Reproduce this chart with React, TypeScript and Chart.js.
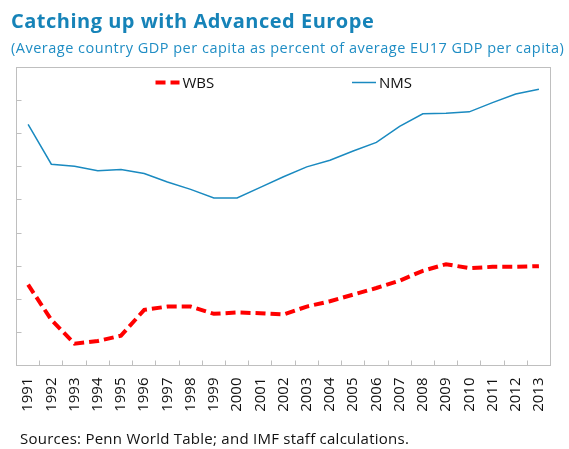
import React, { useEffect, useRef } from "react";
import { Chart, registerables } from "chart.js";
Chart.register(...registerables);

const years = [
  "1991", "1992", "1993", "1994", "1995", "1996", "1997", "1998", "1999", "2000",
  "2001", "2002", "2003", "2004", "2005", "2006", "2007", "2008", "2009", "2010",
  "2011", "2012", "2013",
];
const wbs = [
  32.2, 26.9, 23.3, 23.7, 24.5, 28.4, 28.9, 28.9, 27.8, 28.0,
  27.9, 27.7, 28.9, 29.7, 30.7, 31.7, 32.8, 34.3, 35.3, 34.7,
  34.9, 34.9, 35.0,
];
const nms = [
  56.4, 50.4, 50.1, 49.4, 49.6, 49.0, 47.7, 46.6, 45.3, 45.3,
  46.9, 48.5, 50.0, 51.0, 52.4, 53.7, 56.1, 58.0, 58.1, 58.3,
  59.7, 61.0, 61.7,
];
const yMin = 20;
const yMax = 65;
const yStep = 5;

const FONT = "'Open Sans', 'Noto Sans', sans-serif";
const BLUE_TEXT = "#1683b8";
const FRAME = "#bfbfbf";

const framePlugin = {
  id: "framePlugin",
  afterDatasetsDraw(chart: any) {
    const { ctx, chartArea, scales } = chart;
    const { left, right, top, bottom } = chartArea;
    const L = Math.floor(left) + 0.5;
    const R = Math.floor(right) + 0.5;
    const T = Math.floor(top) + 0.5;
    const B = Math.floor(bottom) + 0.5;
    ctx.save();
    ctx.strokeStyle = FRAME;
    ctx.lineWidth = 1;
    ctx.setLineDash([]);
    ctx.strokeRect(L, T, R - L, B - T);
    const y = scales.y;
    for (let v = yMin + yStep; v < yMax; v += yStep) {
      const py = Math.floor(y.getPixelForValue(v)) + 0.5;
      ctx.beginPath();
      ctx.moveTo(L, py);
      ctx.lineTo(L + 5, py);
      ctx.stroke();
    }
    const x = scales.x;
    for (let i = 1; i < years.length; i++) {
      const px = Math.floor(x.getPixelForValue(i - 0.5)) + 0.5;
      ctx.beginPath();
      ctx.moveTo(px, B);
      ctx.lineTo(px, B - 5);
      ctx.stroke();
    }
    const cx = (left + right) / 2;
    const ly = top + 15;
    const items = [
      { ds: chart.data.datasets[0], x0: cx - 128 },
      { ds: chart.data.datasets[1], x0: cx + 68.5 },
    ];
    ctx.font = `15px ${FONT}`;
    ctx.textBaseline = "middle";
    ctx.textAlign = "left";
    for (const it of items) {
      ctx.save();
      ctx.strokeStyle = it.ds.borderColor;
      ctx.lineWidth = it.ds.borderWidth;
      ctx.setLineDash(it.ds.borderDash || []);
      ctx.beginPath();
      ctx.moveTo(it.x0, ly);
      ctx.lineTo(it.x0 + 24, ly);
      ctx.stroke();
      ctx.restore();
      ctx.fillStyle = "#111";
      ctx.fillText(it.ds.label, it.x0 + 27, ly + 1);
    }
    ctx.restore();
  },
};

export default function App() {
  const ref = useRef<HTMLCanvasElement | null>(null);
  useEffect(() => {
    if (!ref.current) return;
    const chart = new Chart(ref.current, {
      type: "line",
      data: {
        labels: years,
        datasets: [
          {
            label: "WBS",
            data: wbs,
            borderColor: "#ff0000",
            borderWidth: 4,
            borderDash: [10, 5],
            pointRadius: 0,
            tension: 0,
            fill: false,
          },
          {
            label: "NMS",
            data: nms,
            borderColor: "#1a8ac0",
            borderWidth: 1.5,
            pointRadius: 0,
            tension: 0,
            fill: false,
          },
        ],
      },
      options: {
        animation: false,
        responsive: false,
        maintainAspectRatio: false,
        layout: { padding: { left: 16.5, top: 67.5, right: 3.5, bottom: 0 } },
        plugins: {
          legend: { display: false },
          tooltip: { enabled: false },
          title: { display: false },
        },
        scales: {
          x: {
            offset: true,
            grid: { display: false, drawTicks: false },
            border: { display: false },
            ticks: {
              minRotation: 90,
              maxRotation: 90,
              autoSkip: false,
              padding: 12,
              color: "#111",
              font: { family: FONT, size: 15 },
            },
            afterFit: (s: any) => {
              s.height = 83.5;
            },
          },
          y: {
            min: yMin,
            max: yMax,
            ticks: { display: false, stepSize: yStep },
            grid: { display: false, drawTicks: false },
            border: { display: false },
            afterFit: (s: any) => {
              s.width = 0;
            },
          },
        },
      },
      plugins: [framePlugin],
    });
    return () => chart.destroy();
  }, []);

  return (
    <div
      style={{
        position: "fixed",
        left: 0,
        top: 0,
        width: 569,
        height: 449,
        background: "#fff",
        fontFamily: FONT,
        overflow: "hidden",
      }}
    >
      <canvas ref={ref} width={569} height={449} style={{ position: "absolute", left: 0, top: 0 }} />
      <div
        style={{
          position: "absolute",
          left: 11,
          top: 7,
          fontSize: 20,
          fontWeight: 700,
          letterSpacing: "0.5px",
          color: BLUE_TEXT,
          whiteSpace: "nowrap",
          lineHeight: "28px",
        }}
      >
        Catching up with Advanced Europe
      </div>
      <div
        style={{
          position: "absolute",
          left: 11,
          top: 37,
          fontSize: 14.5,
          letterSpacing: "0.5px",
          color: "#1f8dc4",
          whiteSpace: "nowrap",
          lineHeight: "22px",
        }}
      >
        (Average country GDP per capita as percent of average EU17 GDP per capita)
      </div>
      <div
        style={{
          position: "absolute",
          left: 20,
          top: 427,
          fontSize: 15,
          letterSpacing: "0.25px",
          color: "#111",
          whiteSpace: "nowrap",
          lineHeight: "22px",
        }}
      >
        Sources: Penn World Table; and IMF staff calculations.
      </div>
    </div>
  );
}
